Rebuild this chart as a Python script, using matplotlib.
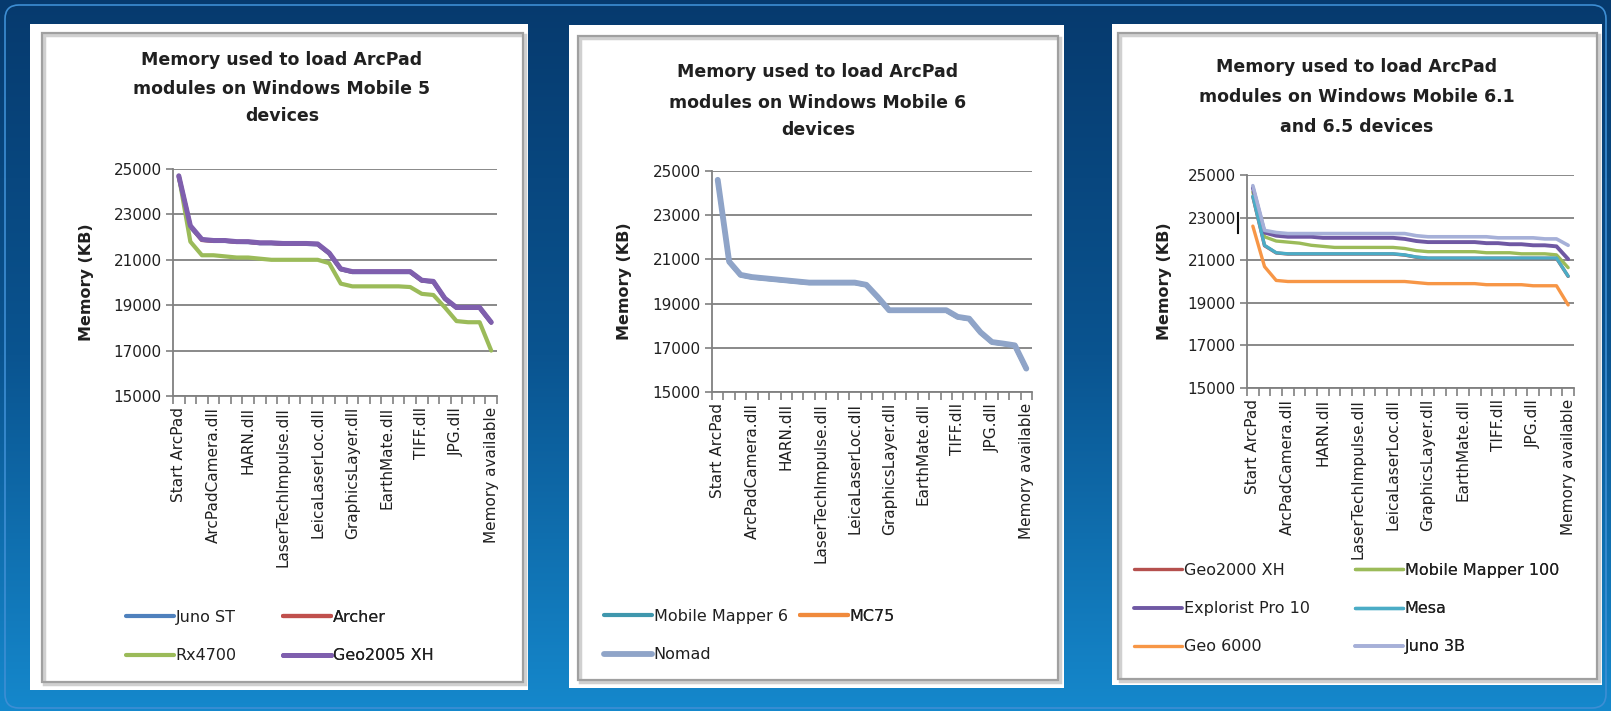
import numpy as np
import matplotlib.pyplot as plt
from matplotlib.patches import Rectangle, FancyBboxPatch
from matplotlib.colors import LinearSegmentedColormap

W, H = 1611, 711

# x categories: 28 load steps, only every 3rd one is labelled
n_steps = 28
label_step = 3
modules = ["Start ArcPad", "ArcPadCamera.dll", "HARN.dll", "LaserTechImpulse.dll",
           "LeicaLaserLoc.dll", "GraphicsLayer.dll", "EarthMate.dll", "TIFF.dll",
           "JPG.dll", "Memory available"]

y_ticks = [15000, 17000, 19000, 21000, 23000, 25000]
y_ticklabels = ["15000", "17000", "19000", "21000", "23000", "25000"]

# Windows Mobile 5 devices
wm5_names = ["Juno ST", "Archer", "Rx4700", "Geo2005 XH"]
wm5_juno_st = [24650, 22450, 21880, 21830, 21830, 21790, 21780, 21730, 21730, 21700, 21700, 21700, 21680, 21280,
               20580, 20460, 20460, 20460, 20460, 20460, 20460, 20080, 20030, 19280, 18880, 18880, 18880, 18230]
wm5_archer = [24680, 22480, 21870, 21840, 21840, 21790, 21790, 21740, 21740, 21710, 21710, 21710, 21690, 21290,
              20590, 20470, 20470, 20470, 20470, 20470, 20470, 20090, 20040, 19290, 18890, 18890, 18890, 18240]
wm5_rx4700 = [24700, 21800, 21200, 21200, 21150, 21100, 21100, 21050, 21000, 21000, 21000, 21000, 21000, 20850,
              19950, 19830, 19830, 19830, 19830, 19830, 19800, 19500, 19450, 18900, 18300, 18250, 18250, 17000]
wm5_geo2005 = [24700, 22500, 21900, 21850, 21850, 21800, 21800, 21750, 21750, 21720, 21720, 21720, 21700, 21300,
               20600, 20480, 20480, 20480, 20480, 20480, 20480, 20100, 20050, 19300, 18900, 18900, 18900, 18250]

# Windows Mobile 6 devices
wm6_names = ["Mobile Mapper 6", "MC75", "Nomad"]
wm6_mm6 = [24580, 20880, 20280, 20180, 20130, 20080, 20030, 19980, 19930, 19930, 19930, 19930, 19930, 19830,
           19280, 18680, 18680, 18680, 18680, 18680, 18680, 18380, 18300, 17680, 17240, 17170, 17090, 16040]
wm6_mc75 = [24590, 20890, 20290, 20190, 20140, 20090, 20040, 19990, 19940, 19940, 19940, 19940, 19940, 19840,
            19290, 18690, 18690, 18690, 18690, 18690, 18690, 18390, 18310, 17690, 17250, 17180, 17100, 16050]
wm6_nomad = [24600, 20900, 20300, 20200, 20150, 20100, 20050, 20000, 19950, 19950, 19950, 19950, 19950, 19850,
             19300, 18700, 18700, 18700, 18700, 18700, 18700, 18400, 18320, 17700, 17260, 17190, 17110, 16060]

# Windows Mobile 6.1 and 6.5 devices
wm61_names = ["Geo2000 XH", "Mobile Mapper 100", "Explorist Pro 10", "Mesa", "Geo 6000", "Juno 3B"]
wm61_geo2000 = [23980, 21680, 21340, 21290, 21290, 21290, 21290, 21290, 21290, 21290, 21290, 21290, 21290, 21240,
                21140, 21090, 21090, 21090, 21090, 21090, 21090, 21090, 21090, 21090, 21090, 21090, 21090, 20240]
wm61_mm100 = [24200, 22100, 21900, 21850, 21800, 21700, 21650, 21600, 21600, 21600, 21600, 21600, 21600, 21550,
              21450, 21400, 21400, 21400, 21400, 21400, 21350, 21350, 21350, 21300, 21300, 21300, 21250, 20650]
wm61_explorist = [24400, 22300, 22150, 22100, 22100, 22100, 22050, 22050, 22050, 22050, 22050, 22050, 22050, 22000,
                  21900, 21850, 21850, 21850, 21850, 21850, 21800, 21800, 21750, 21750, 21700, 21700, 21650, 21050]
wm61_mesa = [24000, 21700, 21350, 21300, 21300, 21300, 21300, 21300, 21300, 21300, 21300, 21300, 21300, 21250,
             21150, 21100, 21100, 21100, 21100, 21100, 21100, 21100, 21100, 21100, 21100, 21100, 21100, 20250]
wm61_geo6000 = [22600, 20700, 20050, 20000, 20000, 20000, 20000, 20000, 20000, 20000, 20000, 20000, 20000, 20000,
                19950, 19900, 19900, 19900, 19900, 19900, 19850, 19850, 19850, 19850, 19800, 19800, 19800, 18900]
wm61_juno3b = [24500, 22400, 22300, 22250, 22250, 22250, 22250, 22250, 22250, 22250, 22250, 22250, 22250, 22250,
               22150, 22100, 22100, 22100, 22100, 22100, 22100, 22050, 22050, 22050, 22050, 22000, 22000, 21700]

TEXT = "#202020"
GRID = "#808080"

panels = [
    dict(frame=(30, 24, 528, 690), border=(42, 33, 523, 682), plot=(173, 169, 497, 396),
         title=["Memory used to load ArcPad", "modules on Windows Mobile 5", "devices"],
         title_y=[60, 89, 116], title_x=282, ylabel_x=86,
         series=[wm5_juno_st, wm5_archer, wm5_rx4700, wm5_geo2005], names=wm5_names,
         colors=["#4f81bd", "#c0504d", "#9bbb59", "#7f5fae"], widths=[3, 3, 3, 3.6],
         legend_cols=[(126, [0, 2]), (283, [1, 3])], legend_top=610),
    dict(frame=(569, 25, 1064, 688), border=(578, 36, 1058, 680), plot=(712, 171, 1032, 392),
         title=["Memory used to load ArcPad", "modules on Windows Mobile 6", "devices"],
         title_y=[72, 103, 130], title_x=818, ylabel_x=624,
         series=[wm6_mm6, wm6_mc75, wm6_nomad], names=wm6_names,
         colors=["#3f97ad", "#f08a3c", "#8fa4c8"], widths=[3, 3, 4.2],
         legend_cols=[(604, [0, 2]), (800, [1])], legend_top=609),
    dict(frame=(1112, 24, 1602, 685), border=(1118, 33, 1597, 679), plot=(1247, 175, 1574, 388),
         title=["Memory used to load ArcPad", "modules on Windows Mobile 6.1", "and 6.5 devices"],
         title_y=[67, 97, 127], title_x=1357, ylabel_x=1164,
         series=[wm61_geo2000, wm61_mm100, wm61_explorist, wm61_mesa, wm61_geo6000, wm61_juno3b],
         names=wm61_names,
         colors=["#b5504e", "#9bbb59", "#6f58a3", "#4bacc6", "#f79646", "#a6b0d8"],
         widths=[2.4, 2.4, 2.8, 2.4, 2.4, 2.6],
         legend_cols=[(1134, [0, 2, 4]), (1355, [1, 3, 5])], legend_top=563),
]


def fig_box(x0, y0, x1, y1):
    return [x0 / W, 1 - y1 / H, (x1 - x0) / W, (y1 - y0) / H]


fig = plt.figure(figsize=(W / 100, H / 100), dpi=100)

# slide background
bg = fig.add_axes([0, 0, 1, 1])
grad = np.linspace(0, 1, 256).reshape(-1, 1)
cmap = LinearSegmentedColormap.from_list("slide", ["#063a6e", "#0a5490", "#1588cc"])
bg.imshow(grad, aspect="auto", cmap=cmap, extent=[0, W, H, 0])
bg.set_xlim(0, W)
bg.set_ylim(H, 0)
bg.axis("off")
bg.add_patch(FancyBboxPatch((5, 5), W - 10, H - 8, boxstyle="round,pad=0,rounding_size=14",
                            fc="none", ec="#3d8ed4", lw=1.2))

x = np.arange(n_steps)

for p in panels:
    fx0, fy0, fx1, fy1 = p["frame"]
    bg.add_patch(Rectangle((fx0, fy0), fx1 - fx0, fy1 - fy0, fc="white", ec="none"))
    bx0, by0, bx1, by1 = p["border"]
    bg.add_patch(Rectangle((bx0 + 2, by0 + 2), bx1 - bx0, by1 - by0, fc="none", ec="#d0d0d0", lw=2.5))
    bg.add_patch(Rectangle((bx0, by0), bx1 - bx0, by1 - by0, fc="none", ec="#a0a0a0", lw=1.6))

    for line, ty in zip(p["title"], p["title_y"]):
        bg.text(p["title_x"], ty, line, ha="center", va="center", fontsize=12.5,
                fontweight="bold", color=TEXT)

    px0, py0, px1, py1 = p["plot"]
    bg.text(p["ylabel_x"], (py0 + py1) / 2, "Memory (KB)", rotation=90, ha="center", va="center",
            fontsize=11.5, fontweight="bold", color=TEXT)

    ax = fig.add_axes(fig_box(px0, py0, px1, py1))
    ax.set_facecolor("none")
    handles = []
    for vals, name, col, lw in zip(p["series"], p["names"], p["colors"], p["widths"]):
        h, = ax.plot(x, vals, color=col, lw=lw, label=name, solid_joinstyle="round",
                     solid_capstyle="round", clip_on=False)
        handles.append(h)

    ax.set_xlim(-0.5, n_steps - 0.5)
    ax.set_ylim(y_ticks[0], y_ticks[-1])
    ax.set_yticks(y_ticks)
    ax.set_yticklabels(y_ticklabels)
    ax.set_xticks(np.arange(0, n_steps, label_step))
    ax.set_xticklabels(modules, rotation=90, va="top", ha="center")
    ax.set_xticks(np.arange(-0.5, n_steps), minor=True)
    ax.yaxis.grid(True, color=GRID, lw=1.3)
    ax.set_axisbelow(True)
    for side in ["top", "right"]:
        ax.spines[side].set_visible(False)
    for side in ["left", "bottom"]:
        ax.spines[side].set_color(GRID)
        ax.spines[side].set_linewidth(1.3)
    ax.tick_params(axis="y", length=5, width=1.2, color=GRID, pad=3, labelsize=11, labelcolor=TEXT)
    ax.tick_params(axis="x", which="major", length=0, pad=8, labelsize=11, labelcolor=TEXT)
    ax.tick_params(axis="x", which="minor", length=6, width=1.2, color=GRID)

    # Excel style legend, one legend per column so each column sits where it should
    for cx, idxs in p["legend_cols"]:
        leg = ax.legend([handles[i] for i in idxs], [p["names"][i] for i in idxs],
                        loc="upper left", bbox_to_anchor=(cx, p["legend_top"]),
                        bbox_transform=bg.transData, frameon=False, fontsize=11.5,
                        handlelength=3.0, handletextpad=0.1, labelspacing=1.45,
                        borderpad=0, borderaxespad=0, labelcolor=TEXT)
        ax.add_artist(leg)

# stray text cursor that sits next to the 23000 label in the third chart
bg.plot([1238, 1238], [213, 233], color="#111111", lw=1.5)

fig.savefig("out.png", dpi=100)
